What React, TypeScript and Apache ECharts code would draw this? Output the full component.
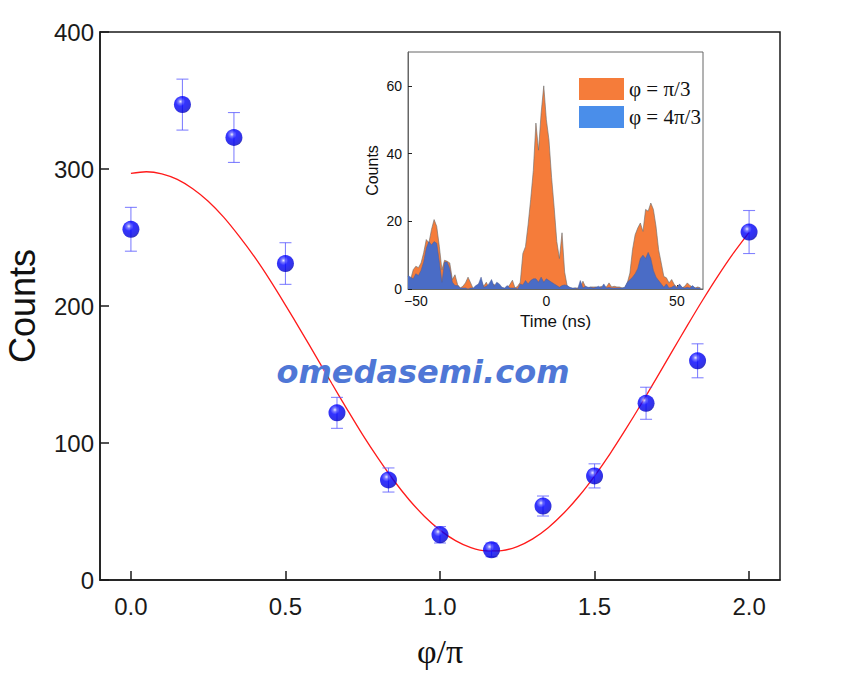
import React, { useEffect, useRef } from "react";
import * as echarts from "echarts";

// Main panel: counts versus phase (in units of pi)
const phaseValues = [0, 0.1667, 0.3333, 0.5, 0.6667, 0.8333, 1.0, 1.1667, 1.3333, 1.5, 1.6667, 1.8333, 2.0];
const countValues = [256, 347, 323, 231, 122, 73, 33, 22, 54, 76, 129, 160, 254];
const countErrors = [16, 18.6, 18.2, 15.2, 11.3, 8.8, 6, 5, 7.3, 8.8, 11.7, 12.4, 15.7];

// Fitted sinusoid
const fitPhase = [
  0, 0.05, 0.1, 0.15, 0.2, 0.25, 0.3, 0.35, 0.4, 0.45, 0.5, 0.55, 0.6, 0.65, 0.7, 0.75, 0.8, 0.85, 0.9, 0.95,
  1.0, 1.05, 1.1, 1.15, 1.2, 1.25, 1.3, 1.35, 1.4, 1.45, 1.5, 1.55, 1.6, 1.65, 1.7, 1.75, 1.8, 1.85, 1.9, 1.95, 2.0,
];
const fitCounts = [
  296.8, 298, 296.5, 292.4, 285.6, 276.5, 264.9, 251.0, 235.8, 218.9, 200.7, 181.9, 162.7, 143.4, 124.4, 105.9, 88.7, 72.8, 58.6, 46.4,
  36.4, 28.7, 23.6, 21.2, 21.5, 24.4, 30.0, 38.2, 48.7, 61.3, 75.9, 92.1, 109.7, 128.1, 147.2, 166.5, 185.7, 204.4, 222.2, 238.8, 253.8,
];

const mainXTicks = [0, 0.5, 1.0, 1.5, 2.0];

// Inset: time histograms
const timeBins = [
  -53, -52, -51, -50, -49, -48, -47, -46, -45, -44, -43, -42, -41, -40, -39, -38, -37, -36, -35, -34,
  -33, -32, -31, -30, -29, -28, -27, -26, -25, -24, -23, -22, -21, -20, -19, -18, -17, -16, -15, -14,
  -13, -12, -11, -10, -9, -8, -7, -6, -5, -4, -3, -2, -1, 0, 1, 2, 3, 4, 5, 6,
  7, 8, 9, 10, 11, 12, 13, 14, 15, 16, 17, 18, 19, 20, 21, 22, 23, 24, 25, 26,
  27, 28, 29, 30, 31, 32, 33, 34, 35, 36, 37, 38, 39, 40, 41, 42, 43, 44, 45, 46,
  47, 48, 49, 50, 51, 52, 53, 54, 55, 56, 57, 58, 59,
];
const countsPi3 = [
  3.7, 2.8, 5.7, 6.7, 6.3, 7.7, 10.7, 14.6, 13.6, 17.6, 20.5, 18.5, 12.6, 5.7, 8.5, 8.2, 7.7, 2.8, 4.2, 1.3,
  0.3, 0.8, 1.8, 3.5, 1.8, 0, 0.3, 1.3, 2.3, 0.8, 2, 0.3, 1.3, 1.3, 0.8, 0.3, 0.3, 0, 0.3, 1.3,
  2.6, 0.3, 0.8, 2, 10.5, 12.5, 19, 26.5, 35, 49, 41, 52, 60, 50, 44, 33, 24, 14, 9, 16.6,
  5, 0.8, 0.3, 0, 0.3, 0.3, 0.3, 2.3, 0.6, 0.3, 0.6, 0.6, 0.6, 0.3, 0.8, 0.3, 0.6, 1.8, 0.6, 0.8,
  0.6, 0.6, 0.3, 0.3, 1.8, 4.7, 11.6, 16, 18, 19.5, 17, 23.5, 23, 25.4, 23.5, 18.5, 11.6, 7.7, 3.7, 3.3,
  1.8, 2.8, 1.3, 0.6, 1.3, 0.3, 0.8, 1.8, 1, 0.6, 0.3, 0.6, 0.3,
];
const counts4Pi3 = [
  4, 3.5, 3, 4.5, 4, 5.5, 8, 12, 14, 13, 14, 13.5, 8, 2, 8, 8, 6, 2, 1, 1,
  0.3, 0.3, 0.3, 0, 0.3, 0.3, 1, 1.5, 3.5, 0.5, 0.8, 1.5, 2.8, 0.8, 2, 1.5, 0.5, 0.3, 1, 0.3,
  0.3, 0.3, 0, 1.5, 1.2, 2.5, 1.5, 2.5, 3, 3, 2, 3.5, 2, 3, 2.5, 2, 1.5, 1, 0.5, 1,
  1.2, 1, 0.5, 0.3, 0.3, 0, 2.5, 0.3, 0.8, 0.5, 0.5, 0.3, 0.5, 0.8, 0.3, 1.5, 0.3, 0.5, 0.3, 0.3,
  0.3, 0.3, 0.3, 0.5, 2, 2.7, 3.5, 4.5, 6, 9, 10, 9, 10.8, 9, 5.5, 3.5, 2.5, 1.5, 0.5, 1.5,
  0.3, 0.5, 1, 0.3, 1.5, 0.5, 0.3, 0.5, 0.3, 1, 0.3, 0.3, 0.3,
];
const insetXTicks = [-50, 0, 50];
const insetYTicks = [0, 20, 40, 60];
const legendNames = ["φ = π/3", "φ = 4π/3"];

const SANS = "Liberation Sans, Arial, Helvetica, sans-serif";
const SERIF = "Liberation Serif, Times New Roman, serif";

export default function App() {
  const ref = useRef<HTMLDivElement>(null);
  useEffect(() => {
    const chart = echarts.init(ref.current!, null, { renderer: "svg" });
    const sphere = new echarts.graphic.RadialGradient(0.38, 0.32, 0.72, [
      { offset: 0, color: "#e6e6ff" },
      { offset: 0.16, color: "#5a5aff" },
      { offset: 0.38, color: "#0000ff" },
      { offset: 0.85, color: "#0000dc" },
      { offset: 1, color: "#00009a" },
    ]);
    const errStyle = { stroke: "rgba(90,90,255,0.75)", lineWidth: 1.1 };
    const option: any = {
      animation: false,
      backgroundColor: "#ffffff",
      grid: [
        { left: 100, top: 32, width: 680, height: 548, outerBoundsMode: "none", containLabel: false, show: true, borderColor: "#1a1a1a", borderWidth: 1.5, backgroundColor: "transparent" },
        { left: 408, top: 52, width: 295, height: 237, outerBoundsMode: "none", containLabel: false, show: true, borderColor: "#666", borderWidth: 1, backgroundColor: "#ffffff" },
      ],
      legend: {
        data: [
          { name: legendNames[0], itemStyle: { color: "#F57C3A", borderWidth: 0 } },
          { name: legendNames[1], itemStyle: { color: "#4A8EEA", borderWidth: 0 } },
        ],
        orient: "vertical",
        left: 574,
        top: 73,
        itemWidth: 45,
        itemHeight: 22,
        itemGap: 6,
        icon: "rect",
        textStyle: { fontFamily: SERIF, fontSize: 21, color: "#111" },
      },
      xAxis: [
        {
          type: "value", gridIndex: 0, min: -0.1, max: 2.1,
          name: "φ/π", nameLocation: "middle", nameGap: 54,
          nameTextStyle: { fontFamily: SERIF, fontSize: 34, color: "#111" },
          axisLine: { onZero: false, lineStyle: { color: "#1a1a1a", width: 1.5 } },
          axisTick: { inside: true, length: 9, customValues: mainXTicks, lineStyle: { color: "#1a1a1a", width: 1.5 } },
          axisLabel: { customValues: mainXTicks, margin: 14, fontFamily: SANS, fontSize: 24, color: "#1a1a1a", formatter: (v: number) => v.toFixed(1) },
          splitLine: { show: false },
        },
        {
          type: "value", gridIndex: 1, min: -53, max: 60,
          name: "Time (ns)", nameLocation: "middle", nameGap: 24,
          nameTextStyle: { fontFamily: SANS, fontSize: 17, color: "#111" },
          axisLine: { onZero: false, lineStyle: { color: "#666", width: 1 } },
          axisTick: { inside: true, length: 4, customValues: insetXTicks, lineStyle: { color: "#222" } },
          axisLabel: { customValues: insetXTicks, margin: 5, fontFamily: SANS, fontSize: 14, color: "#111", formatter: (v: number) => String(v).replace("-", "\u2212") },
          splitLine: { show: false },
        },
      ],
      yAxis: [
        {
          type: "value", gridIndex: 0, min: 0, max: 400, interval: 100,
          name: "Counts", nameLocation: "middle", nameGap: 60,
          nameTextStyle: { fontFamily: SANS, fontSize: 36, color: "#111" },
          axisLine: { show: true, onZero: false, lineStyle: { color: "#1a1a1a", width: 1.5 } },
          axisTick: { show: true, inside: true, length: 9, lineStyle: { color: "#1a1a1a", width: 1.5 } },
          axisLabel: { margin: 6, fontFamily: SANS, fontSize: 24, color: "#1a1a1a" },
          splitLine: { show: false },
        },
        {
          type: "value", gridIndex: 1, min: 0, max: 70,
          name: "Counts", nameLocation: "middle", nameGap: 28,
          nameTextStyle: { fontFamily: SANS, fontSize: 16, color: "#111" },
          axisLine: { show: true, onZero: false, lineStyle: { color: "#666", width: 1 } },
          axisTick: { show: true, inside: true, length: 4, customValues: insetYTicks, lineStyle: { color: "#222" } },
          axisLabel: { customValues: insetYTicks, margin: 6, fontFamily: SANS, fontSize: 14, color: "#111" },
          splitLine: { show: false },
        },
      ],
      series: [
        {
          type: "line", xAxisIndex: 0, yAxisIndex: 0,
          data: fitPhase.map((p, i) => [p, fitCounts[i]]),
          smooth: 0.3, showSymbol: false, silent: true,
          lineStyle: { color: "#ff1a1a", width: 1.3 }, z: 2,
        },
        {
          type: "custom", xAxisIndex: 0, yAxisIndex: 0,
          data: phaseValues.map((p, i) => [p, countValues[i], countErrors[i]]),
          encode: { x: 0, y: 1 },
          renderItem: (_params: any, api: any) => {
            const x = api.value(0), y = api.value(1), e = api.value(2);
            const top = api.coord([x, y + e]);
            const bot = api.coord([x, y - e]);
            const hw = 6;
            return {
              type: "group",
              children: [
                { type: "line", shape: { x1: top[0], y1: top[1], x2: bot[0], y2: bot[1] }, style: errStyle },
                { type: "line", shape: { x1: top[0] - hw, y1: top[1], x2: top[0] + hw, y2: top[1] }, style: errStyle },
                { type: "line", shape: { x1: bot[0] - hw, y1: bot[1], x2: bot[0] + hw, y2: bot[1] }, style: errStyle },
              ],
            };
          },
          z: 3,
        },
        {
          type: "scatter", xAxisIndex: 0, yAxisIndex: 0,
          data: phaseValues.map((p, i) => [p, countValues[i]]),
          symbol: "circle", symbolSize: 17,
          itemStyle: { color: sphere }, z: 4,
        },
        {
          name: legendNames[0],
          type: "line", xAxisIndex: 1, yAxisIndex: 1,
          data: timeBins.map((t, i) => [t, countsPi3[i]]),
          showSymbol: false, symbol: "none",
          itemStyle: { color: "#F57C3A" },
          lineStyle: { color: "rgba(110,110,110,0.9)", width: 0.7 },
          areaStyle: { color: "#F57C3A", opacity: 1 },
          z: 5,
        },
        {
          name: legendNames[1],
          type: "line", xAxisIndex: 1, yAxisIndex: 1,
          data: timeBins.map((t, i) => [t, counts4Pi3[i]]),
          showSymbol: false, symbol: "none",
          itemStyle: { color: "#4A6CC6" },
          lineStyle: { color: "rgba(80,95,150,0.9)", width: 0.6 },
          areaStyle: { color: "#4A6CC6", opacity: 1 },
          z: 6,
        },
      ],
      graphic: [
        {
          type: "text", left: "center", top: 356, z: 100,
          style: {
            text: "omedasemi.com",
            fill: "#4F77D6",
            font: "italic bold 32px 'DejaVu Sans', sans-serif",
          },
        },
      ],
    };
    chart.setOption(option);
    return () => chart.dispose();
  }, []);
  return <div ref={ref} style={{ position: "fixed", left: 0, top: 0, width: 846, height: 695 }} />;
}
